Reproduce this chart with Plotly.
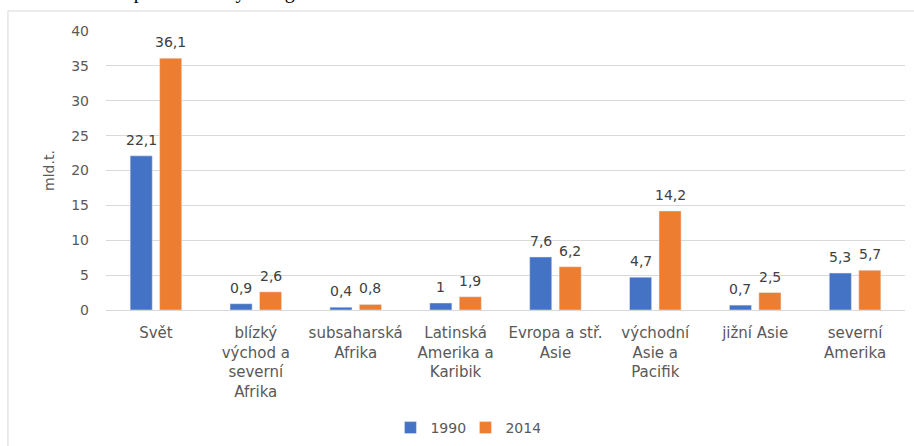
import plotly.graph_objects as go

categories = ["Svět", "blízký<br>východ a<br>severní<br>Afrika", "subsaharská<br>Afrika",
              "Latinská<br>Amerika a<br>Karibik", "Evropa a stř.<br>Asie", "východní<br>Asie a<br>Pacifik",
              "jižní Asie", "severní<br>Amerika"]
cat_keys = ["Svět", "blízký východ", "subsaharská", "Latinská", "Evropa", "východní", "jižní", "severní"]
values_1990 = [22.1, 0.9, 0.4, 1.0, 7.6, 4.7, 0.7, 5.3]
values_2014 = [36.1, 2.6, 0.8, 1.9, 6.2, 14.2, 2.5, 5.7]
series_names = ["1990", "2014"]
y_ticks = [0, 5, 10, 15, 20, 25, 30, 35, 40]

BLUE = "#4472C4"
ORANGE = "#ED7D31"
TXT = "#595959"
FONT = "DejaVu Sans"


def fmt(v):
    if float(v).is_integer():
        return str(int(v))
    return ("%g" % v).replace(".", ",")


fig = go.Figure()
fig.add_trace(go.Bar(x=cat_keys, y=values_1990, name=series_names[0], marker_color=BLUE))
fig.add_trace(go.Bar(x=cat_keys, y=values_2014, name=series_names[1], marker_color=ORANGE))

annotations = []
for series, shift in ((values_1990, -14.75), (values_2014, 14.75)):
    for k, v in zip(cat_keys, series):
        annotations.append(dict(x=k, y=v, xref="x", yref="y", text=fmt(v), showarrow=False,
                                xshift=shift, yshift=16, yanchor="middle",
                                font=dict(family=FONT, size=14, color="#404040")))

# partially cropped caption above the chart frame
annotations.append(dict(x=-0.09, y=1.093, xref="paper", yref="paper", xanchor="left", yanchor="bottom",
                        text="Emise CO2 podle světových regionů", showarrow=False,
                        font=dict(family="Liberation Serif", size=20, color="#000000")))

fig.update_layout(
    width=914, height=446,
    margin=dict(l=106, r=9, t=31, b=136, autoexpand=False),
    paper_bgcolor="white", plot_bgcolor="white",
    barmode="group", bargap=0.41, bargroupgap=0.25,
    font=dict(family=FONT, size=14, color=TXT),
    showlegend=True,
    legend=dict(orientation="h", x=0.356, xanchor="left", y=-0.423, yanchor="middle",
                entrywidth=30, entrywidthmode="pixels",
                font=dict(family=FONT, size=14, color=TXT), bgcolor="rgba(0,0,0,0)"),
    annotations=annotations,
    shapes=[dict(type="rect", xref="paper", yref="paper", x0=-0.1227, x1=1.03, y0=-0.6, y1=1.0717,
                 line=dict(color="#D9D9D9", width=1), fillcolor="rgba(0,0,0,0)", layer="below")],
)
fig.update_xaxes(type="category", tickmode="array", tickvals=cat_keys, ticktext=categories,
                 showgrid=False, showline=False, ticks="", ticklabelstandoff=12,
                 tickfont=dict(family=FONT, size=15, color=TXT))
fig.update_yaxes(range=[0, 40], tickvals=y_ticks, showgrid=True, gridcolor="#D9D9D9", gridwidth=1,
                 zeroline=True, zerolinecolor="#D9D9D9", zerolinewidth=1, ticks="", ticklabelstandoff=16,
                 tickfont=dict(family=FONT, size=14, color=TXT),
                 title=dict(text="mld.t.", standoff=13, font=dict(family=FONT, size=14, color=TXT)))

fig.write_html("out.html", config={"displayModeBar": False},
               post_script="document.body.style.margin='0';")
